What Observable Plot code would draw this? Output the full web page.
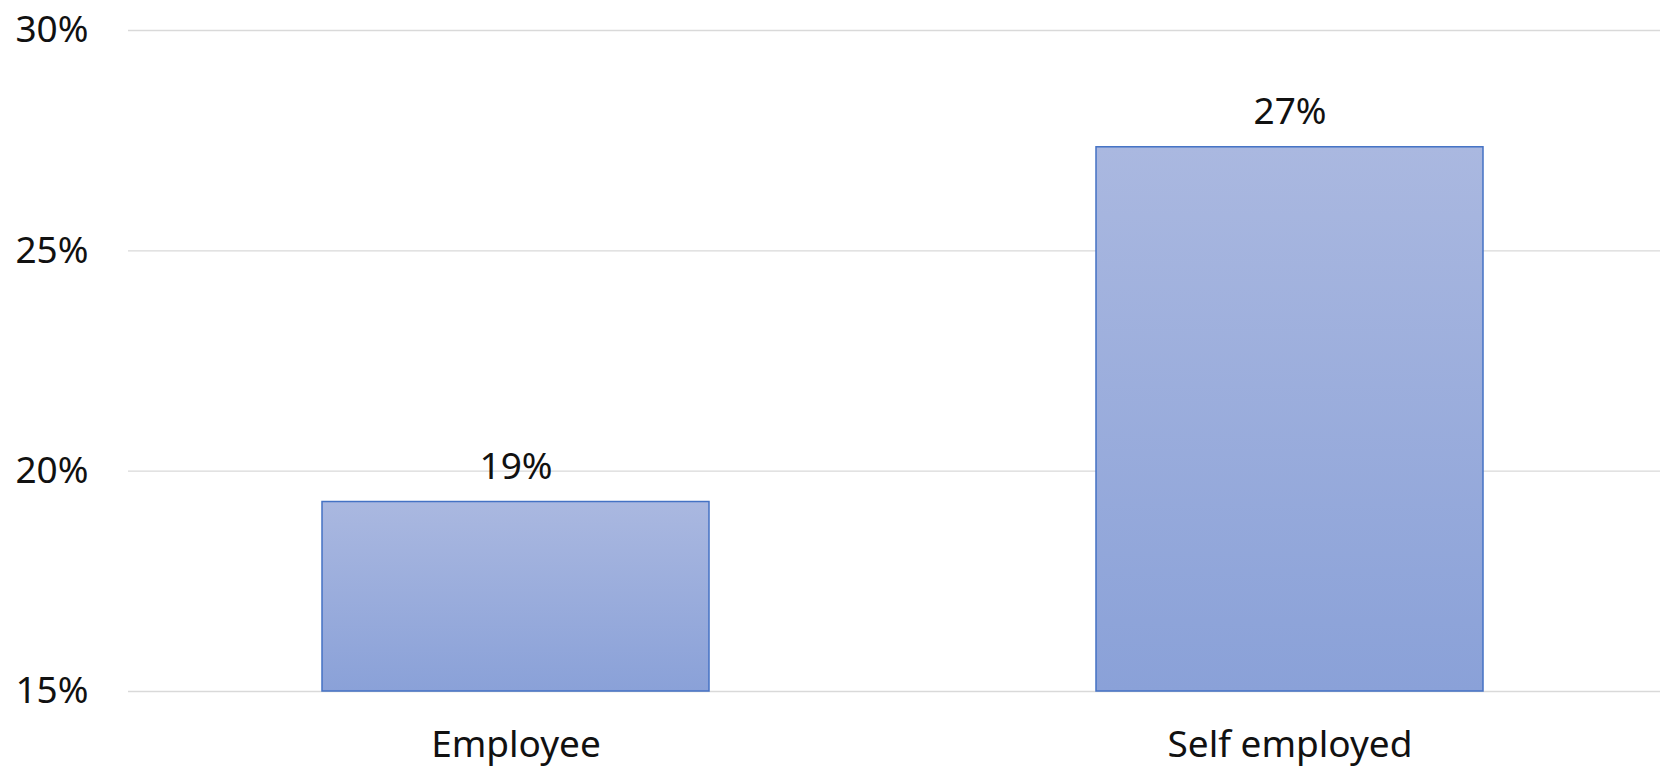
<!DOCTYPE html>
<html>
<head>
<meta charset="utf-8">
<script src="https://cdn.jsdelivr.net/npm/d3@7"></script>
<script src="https://cdn.jsdelivr.net/npm/@observablehq/plot@0.6"></script>
<style>
  html, body { margin: 0; padding: 0; background: #fff; }
  #chart { width: 1660px; height: 768px; }
</style>
</head>
<body>
<div id="chart"></div>
<script>
const categories = ["Employee", "Self employed"];
const values = [19.3, 27.35];
const valueLabels = ["19%", "27%"];
const yTicks = [15, 20, 25, 30];
const yTickLabels = ["15%", "20%", "25%", "30%"];

const data = categories.map((c, i) => ({category: c, value: values[i], label: valueLabels[i]}));

const font = "'Noto Sans', sans-serif";
const fs = 37;

const chart = Plot.plot({
  width: 1660,
  height: 768,
  marginTop: 30,
  marginBottom: 77,
  marginLeft: 128,
  marginRight: -16,
  style: {fontFamily: font, fontSize: fs + "px", color: "#111", background: "#fff"},
  x: {domain: categories, paddingInner: 0.5, paddingOuter: 0.25, label: null},
  y: {domain: [15, 30], label: null},
  marks: [
    Plot.ruleY(yTicks, {stroke: "#d9d9d9", strokeWidth: 1.4}),
    Plot.barY(data, {x: "category", y1: 15, y2: "value", fill: "url(#barGrad)", stroke: "#4472c4", strokeWidth: 1.5}),
    Plot.text(data, {x: "category", y: "value", text: "label", dy: -35, fill: "#111", fontSize: fs}),
    Plot.axisY(yTicks, {tickSize: 0, tickPadding: 40, tickFormat: (d) => yTickLabels[yTicks.indexOf(d)], fontSize: fs, fill: "#111"}),
    Plot.axisX({tickSize: 0, tickPadding: 39, fontSize: fs, fill: "#111"})
  ]
});

const svg = d3.select(chart);
const defs = svg.insert("defs", ":first-child");
const g = defs.append("linearGradient").attr("id", "barGrad").attr("x1", 0).attr("y1", 0).attr("x2", 0).attr("y2", 1);
g.append("stop").attr("offset", "0%").attr("stop-color", "#aab8e0");
g.append("stop").attr("offset", "100%").attr("stop-color", "#8aa1d8");

document.getElementById("chart").appendChild(chart);
</script>
</body>
</html>
